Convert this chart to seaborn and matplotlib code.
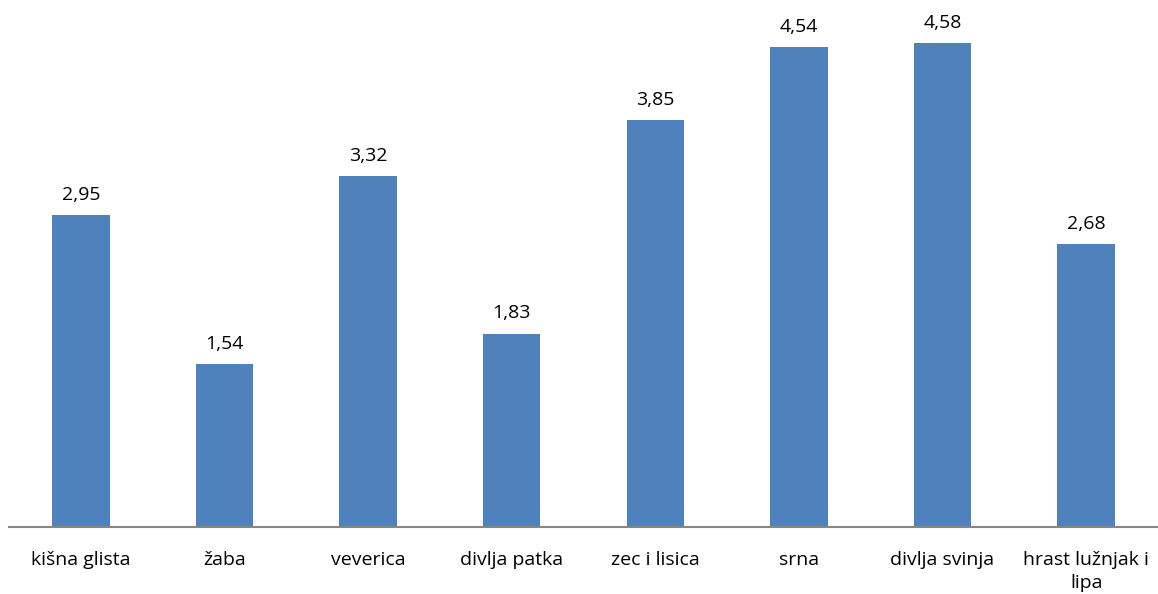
import matplotlib
matplotlib.use("Agg")
import matplotlib.pyplot as plt
import seaborn as sns
import pandas as pd

categories = ["kišna glista", "žaba", "veverica", "divlja patka", "zec i lisica",
              "srna", "divlja svinja", "hrast lužnjak i\nlipa"]
values = [2.95, 1.54, 3.32, 1.83, 3.85, 4.54, 4.58, 2.68]

sns.set_theme(style="white")
plt.rcParams['font.family'] = ['Open Sans', 'DejaVu Sans']

df = pd.DataFrame({"cat": categories, "val": values})

fig = plt.figure(figsize=(11.58, 5.94), dpi=100)
ax = fig.add_axes([9/1158, 67/594, 1 - 9/1158, 527/594])
sns.barplot(data=df, x="cat", y="val", color="#4F81BD", saturation=1, width=0.4,
            linewidth=0, ax=ax)
ax.set_ylim(0, 4.985)
ax.set_xlim(-0.5, len(categories) - 0.5)
ax.set_xlabel("")
ax.set_ylabel("")
ax.set_yticks([])
for s in ["top", "right", "left"]:
    ax.spines[s].set_visible(False)
ax.spines["bottom"].set_color("#868686")
ax.spines["bottom"].set_linewidth(1.5)
ax.tick_params(axis="x", length=0, pad=17, labelsize=14, colors="#000000")
for lbl in ax.get_xticklabels():
    lbl.set_linespacing(1.4)
for c in ax.containers:
    ax.bar_label(c, labels=[f"{v:.2f}".replace(".", ",") for v in values],
                 padding=8, fontsize=14, color="#000000")
fig.savefig("out.png", dpi=100)
